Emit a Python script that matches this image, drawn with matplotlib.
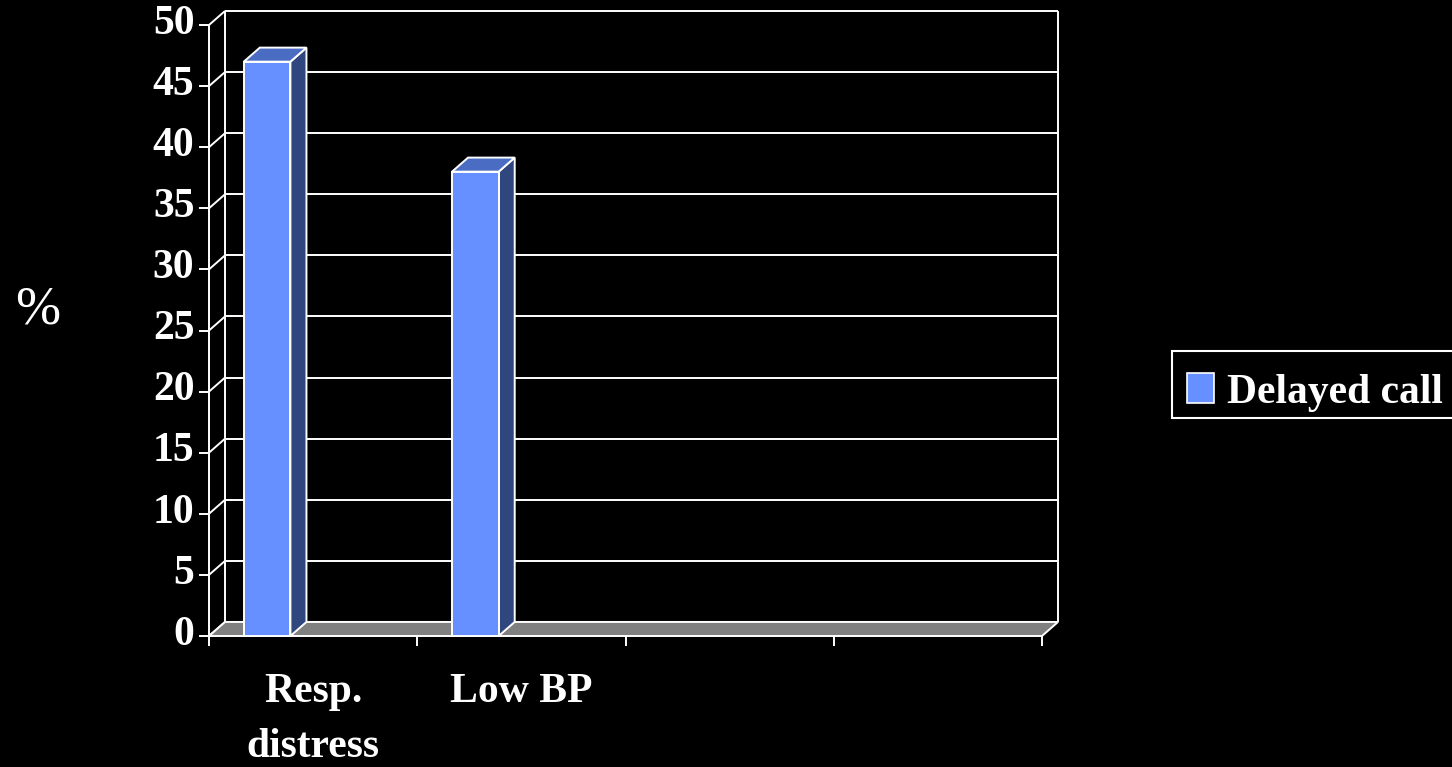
import matplotlib.pyplot as plt
from matplotlib.patches import Polygon, Rectangle

# ── Data ──────────────────────────────────────────────────────────────────────
categories = ["Resp.\ndistress", "Low BP", "", ""]
delayed_call = [47, 38]
y_ticks = list(range(0, 55, 5))
series_name = "Delayed call"
y_label = "%"

# ── Style ─────────────────────────────────────────────────────────────────────
W, H = 1452, 767
FRONT, TOP, SIDE = "#6690ff", "#4a6cc2", "#30467f"
FLOOR = "#808080"
FONT = "Liberation Serif"
FS = 30
LW = 1.4

# 3D depth offset (data units) and bar placement inside a category slot
DX, DY = 0.077, 1.15
BAR_OFF, BAR_W = 0.167, 0.224

n_cat = len(categories)
y_max = y_ticks[-1]

fig = plt.figure(figsize=(W / 100, H / 100), dpi=100, facecolor="black")
ax = fig.add_axes([209 / W, 131 / H, 833 / W, 611 / H])
ax.set_xlim(0, n_cat)
ax.set_ylim(0, y_max)
ax.axis("off")

line_kw = dict(color="white", lw=LW, clip_on=False, solid_capstyle="butt")

# back wall gridlines + left wall diagonals
for v in y_ticks:
    if v > 0:
        ax.plot([DX, n_cat + DX], [v + DY, v + DY], zorder=1, **line_kw)
    ax.plot([0, DX], [v, v + DY], zorder=1, **line_kw)
ax.plot([DX, DX], [DY, y_max + DY], zorder=1, **line_kw)
ax.plot([n_cat + DX, n_cat + DX], [DY, y_max + DY], zorder=1, **line_kw)
ax.plot([0, 0], [0, y_max], zorder=4, **line_kw)

# floor
ax.add_patch(Polygon([(0, 0), (n_cat, 0), (n_cat + DX, DY), (DX, DY)],
                     closed=True, facecolor=FLOOR, edgecolor="white",
                     lw=LW, zorder=2, clip_on=False))

# bars
for i, v in enumerate(delayed_call):
    x0 = i + BAR_OFF
    x1 = x0 + BAR_W
    ax.add_patch(Polygon([(x1, 0), (x1 + DX, DY), (x1 + DX, v + DY), (x1, v)],
                         facecolor=SIDE, edgecolor="white", lw=LW,
                         zorder=3, clip_on=False))
    ax.add_patch(Polygon([(x0, v), (x1, v), (x1 + DX, v + DY), (x0 + DX, v + DY)],
                         facecolor=TOP, edgecolor="white", lw=LW,
                         zorder=3, clip_on=False))
    ax.add_patch(Rectangle((x0, 0), BAR_W, v, facecolor=FRONT,
                           edgecolor="white", lw=LW, zorder=3, clip_on=False))

# ticks and labels
for v in y_ticks:
    ax.plot([-0.048, 0], [v, v], zorder=4, **line_kw)
    ax.text(-0.07, v + 0.1, str(v), ha="right", va="center", color="white",
            fontsize=FS, fontweight="bold", family=FONT)

for i in range(n_cat + 1):
    ax.plot([i, i], [0, -0.82], zorder=4, **line_kw)

for i, lab in enumerate(categories):
    ax.text(i + 0.5, -3.0, lab, ha="center", va="top", color="white",
            fontsize=FS, fontweight="bold", family=FONT,
            multialignment="center", linespacing=1.6)

# y label
fig.text(38 / W, 1 - 310 / H, y_label, ha="center", va="center",
         color="white", fontsize=39, family=FONT)

# legend (drawn by hand, runs off the right edge like the original)
fig.add_artist(Rectangle((1172 / W, 1 - 418 / H), 300 / W, 67 / H,
                         transform=fig.transFigure, facecolor="black",
                         edgecolor="white", lw=1.5))
fig.add_artist(Rectangle((1187 / W, 1 - 403 / H), 27 / W, 30 / H,
                         transform=fig.transFigure, facecolor=FRONT,
                         edgecolor="white", lw=1.2))
fig.text(1227 / W, 1 - 403 / H, series_name, ha="left", va="baseline",
         color="white", fontsize=FS, fontweight="bold", family=FONT)

fig.savefig("out.png", dpi=100, facecolor="black")
